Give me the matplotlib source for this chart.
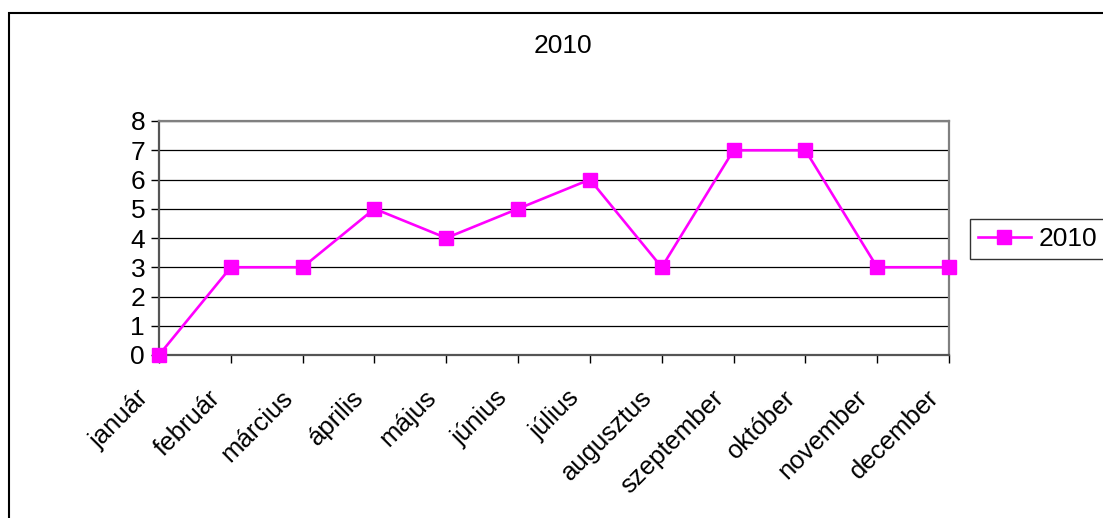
import matplotlib
matplotlib.use("Agg")
import matplotlib.pyplot as plt
import matplotlib.transforms as mtransforms
from matplotlib.patches import Rectangle

months = ["január", "február", "március", "április", "május", "június",
          "július", "augusztus", "szeptember", "október", "november", "december"]
values_2010 = [0, 3, 3, 5, 4, 5, 6, 3, 7, 7, 3, 3]
series_name = "2010"
chart_title = "2010"
y_ticks = [0, 1, 2, 3, 4, 5, 6, 7, 8]

plt.rcParams['font.family'] = ['Liberation Sans', 'DejaVu Sans']
FS = 19
FS_X = 18.5

W, H = 1103, 518
fig = plt.figure(figsize=(W / 100, H / 100), dpi=100)
fig.patch.set_facecolor("white")

# outer chart frame (cut at right & bottom)
fig.patches.append(Rectangle((9 / W, -0.1), 1.2, 1 - 13 / H + 0.1,
                             transform=fig.transFigure, fill=False,
                             edgecolor="black", linewidth=1.5, clip_on=False))

left, right, top, bottom = 159 / W, 949 / W, 1 - 121 / H, 1 - 355 / H
ax = fig.add_axes([left, bottom, right - left, top - bottom])

x = list(range(len(months)))
ax.plot(x, values_2010, color="#FF00FF", linewidth=1.9, marker="s",
        markersize=10, markerfacecolor="#FF00FF", markeredgecolor="#FF00FF",
        label=series_name, clip_on=False, zorder=5)

ax.set_xlim(0, len(months) - 1)
ax.set_ylim(0, 8)
ax.set_yticks(y_ticks)
ax.set_yticklabels([str(v) for v in y_ticks], fontsize=FS)
ax.grid(axis="y", color="black", linewidth=0.9)
ax.set_axisbelow(True)

ax.set_xticks(x)
ax.set_xticklabels([])
ax.tick_params(axis="x", direction="out", length=6, width=1, color="black")
ax.tick_params(axis="y", direction="out", length=6, width=1, color="black", pad=4)

for s in ["left", "bottom"]:
    ax.spines[s].set_color("#555555")
    ax.spines[s].set_linewidth(1.6)
for s in ["right", "top"]:
    ax.spines[s].set_color("#808080")
    ax.spines[s].set_linewidth(1.6)

# rotated month labels
trans = ax.get_xaxis_transform() + mtransforms.ScaledTranslation(-14 / 100, -39 / 100, fig.dpi_scale_trans)
for xi, m in zip(x, months):
    ax.text(xi, 0, m, transform=trans, rotation=45, rotation_mode="anchor",
            ha="right", va="center", fontsize=FS_X)

fig.text(563 / W, 1 - 46 / H, chart_title, ha="center", va="center", fontsize=FS)

leg = ax.legend(loc="upper left", bbox_to_anchor=(970 / W, 1 - 219 / H),
                bbox_transform=fig.transFigure, frameon=True, fancybox=False,
                edgecolor="black", fontsize=FS, borderaxespad=0,
                handlelength=2.0, handletextpad=0.3, borderpad=0.3)
leg.get_frame().set_linewidth(1.0)

fig.savefig("out.png", dpi=100)
